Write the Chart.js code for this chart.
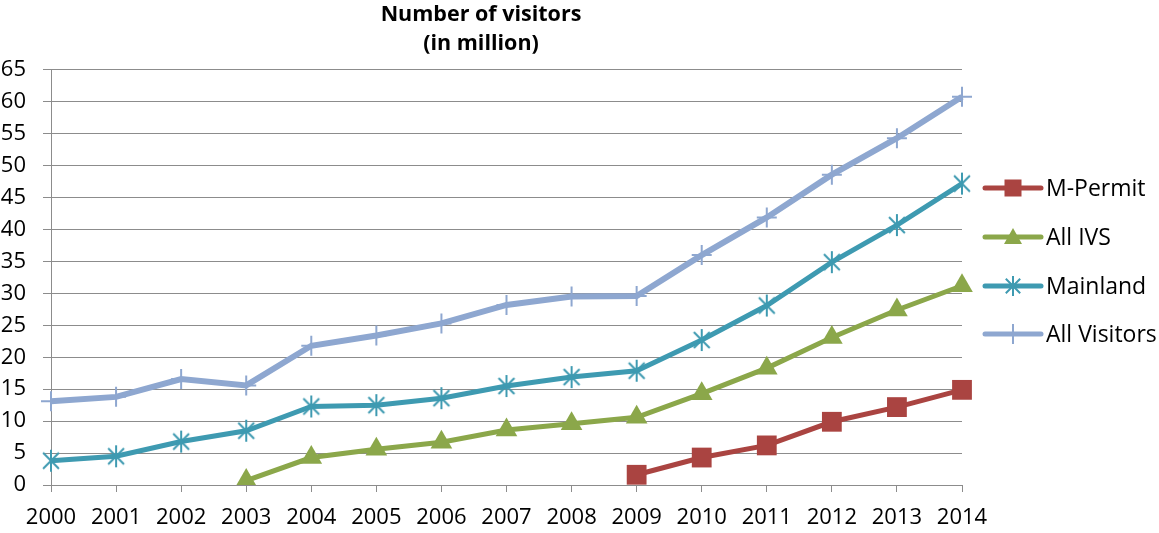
<!DOCTYPE html>
<html>
<head>
<meta charset="utf-8">
<script src="https://cdn.jsdelivr.net/npm/chart.js@4/dist/chart.umd.min.js"></script>
<style>
html,body{margin:0;padding:0;background:#fff;}
#wrap{width:1159px;height:533px;position:relative;}
</style>
</head>
<body>
<div id="wrap"><canvas id="c" width="1159" height="533"></canvas></div>
<script>
const years = ['2000','2001','2002','2003','2004','2005','2006','2007','2008','2009','2010','2011','2012','2013','2014'];
const mPermit = [null,null,null,null,null,null,null,null,null,1.6,4.3,6.2,9.9,12.2,14.9];
const allIVS = [null,null,null,0.7,4.3,5.6,6.7,8.6,9.6,10.6,14.3,18.3,23.1,27.4,31.2];
const mainland = [3.8,4.5,6.8,8.5,12.3,12.5,13.6,15.5,16.9,17.9,22.7,28.1,34.9,40.7,47.2];
const allVisitors = [13.1,13.8,16.6,15.6,21.8,23.4,25.3,28.2,29.5,29.6,36.0,41.9,48.6,54.3,60.8];
const seriesNames = ['M-Permit','All IVS','Mainland','All Visitors'];
const titleLines = ['Number of visitors','(in million)'];

const C_RED = '#AA4441', C_GREEN = '#8BA74A', C_TEAL = '#3E9AB1', C_LAV = '#8EA7D0';
const FONT = '"Open Sans", "DejaVu Sans", sans-serif';

function starCanvas(color, r, w){
  const s = Math.ceil(2*r+4);
  const cv = document.createElement('canvas');
  cv.width = s; cv.height = s;
  const g = cv.getContext('2d');
  const c = s/2;
  g.strokeStyle = color; g.lineWidth = w; g.lineCap='butt';
  const d = r*0.72;
  g.beginPath();
  g.moveTo(c-d,c-d); g.lineTo(c+d,c+d);
  g.moveTo(c+d,c-d); g.lineTo(c-d,c+d);
  g.moveTo(c,c-r); g.lineTo(c,c+r);
  g.stroke();
  return cv;
}
const starImg = starCanvas(C_TEAL, 11, 2);
const starImgSmall = starCanvas(C_TEAL, 10, 2);

const legendPlugin = {
  id:'customLegend',
  afterDraw(chart){
    const ctx = chart.ctx;
    const x0 = 985, x1 = 1041, xm = 1013, tx = 1046;
    const ys = [188, 237, 286, 334];
    ctx.save();
    chart.data.datasets.forEach((ds, i) => {
      const y = ys[i];
      ctx.strokeStyle = ds.borderColor; ctx.lineWidth = 5; ctx.lineCap='round';
      ctx.beginPath(); ctx.moveTo(x0,y); ctx.lineTo(x1,y); ctx.stroke();
      ctx.fillStyle = ds.borderColor; ctx.strokeStyle = ds.borderColor;
      if (ds.pointStyle === 'rect') {
        ctx.fillRect(xm-8.5, y-8.5, 17, 17);
      } else if (ds.pointStyle === 'triangle') {
        ctx.beginPath(); ctx.moveTo(xm, y-9); ctx.lineTo(xm+9, y+7); ctx.lineTo(xm-9, y+7); ctx.closePath(); ctx.fill();
      } else if (ds.pointStyle === 'cross') {
        ctx.lineWidth = 2; ctx.lineCap='butt';
        ctx.beginPath(); ctx.moveTo(xm, y-10); ctx.lineTo(xm, y+10); ctx.stroke();
      } else {
        ctx.drawImage(starImgSmall, xm - starImgSmall.width/2, y - starImgSmall.height/2);
      }
      ctx.fillStyle = '#000';
      ctx.font = '23px ' + FONT;
      ctx.textBaseline = 'middle'; ctx.textAlign = 'left';
      ctx.fillText(ds.label, tx, y+1);
    });
    ctx.restore();
  }
};

new Chart(document.getElementById('c'), {
  type:'line',
  data:{
    labels: years,
    datasets:[
      {label: seriesNames[0], data: mPermit, borderColor:C_RED, backgroundColor:C_RED, borderWidth:5, pointStyle:'rect', pointRadius:14, pointBorderWidth:0, pointBackgroundColor:C_RED, order:0},
      {label: seriesNames[1], data: allIVS, borderColor:C_GREEN, backgroundColor:C_GREEN, borderWidth:5, pointStyle:'triangle', pointRadius:12.5, pointBorderWidth:0, pointBackgroundColor:C_GREEN, order:1},
      {label: seriesNames[2], data: mainland, borderColor:C_TEAL, backgroundColor:C_TEAL, borderWidth:5, pointStyle:starImg, pointRadius:11, order:2},
      {label: seriesNames[3], data: allVisitors, borderColor:C_LAV, backgroundColor:C_LAV, borderWidth:6, pointStyle:'cross', pointRadius:10, pointBorderWidth:2, pointBorderColor:C_LAV, order:3}
    ]
  },
  options:{
    responsive:false,
    animation:false,
    spanGaps:false,
    layout:{padding:{left:0, right:197, top:0, bottom:0}},
    elements:{line:{tension:0}},
    plugins:{
      legend:{display:false},
      tooltip:{enabled:false},
      title:{display:true, text:titleLines, color:'#000', font:{family:FONT, size:21.5, weight:'bold', lineHeight:1.37}, padding:{top:0, bottom:11}}
    },
    scales:{
      x:{
        offset:false,
        grid:{display:true, drawOnChartArea:false, drawTicks:true, tickLength:7, color:'#8C8C8C', lineWidth:1},
        border:{display:true, color:'#8C8C8C', width:1},
        ticks:{color:'#000', font:{family:FONT, size:22}, padding:13, maxRotation:0, autoSkip:false},
        afterFit(s){ s.height = 48; }
      },
      y:{
        min:0, max:65,
        grid:{color:'#8C8C8C', lineWidth:1, tickLength:8, drawTicks:true},
        border:{display:true, color:'#8C8C8C', width:1},
        ticks:{stepSize:5, color:'#000', font:{family:FONT, size:22}, padding:17},
        afterFit(s){ s.width = 51; }
      }
    }
  },
  plugins:[legendPlugin]
});
</script>
</body>
</html>
